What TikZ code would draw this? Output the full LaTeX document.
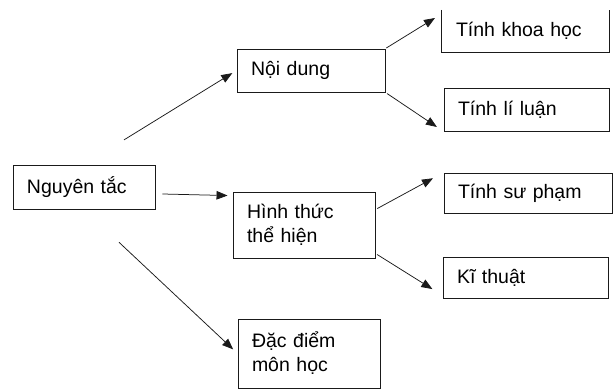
\documentclass[tikz,border=0pt]{standalone}
\usepackage{fontspec}
\setmainfont{Liberation Sans}
\usetikzlibrary{arrows.meta}
\definecolor{LineGray}{HTML}{1A1A1A}

\begin{document}
\begin{tikzpicture}[x=1pt, y=1pt,
    box/.style={draw=LineGray, line width=0.9pt, inner xsep=14pt, align=left,
                font=\fontsize{19.5}{24}\selectfont},
    openbox/.style={inner xsep=14pt, align=left, font=\fontsize{19.5}{24}\selectfont},
    arrow/.style={LineGray, line width=0.75pt, -{Triangle[length=11pt, width=8.5pt]}}]
                \useasboundingbox (0,0) rectangle (614,391);

                % Root
                \node[box, text width=114pt, minimum height=44pt] (nguyen) at (84, 204) {Nguyên tắc};

                % Middle level
                \node[box, text width=120pt, minimum height=43pt] (noidung) at (311, 320.5) {Nội dung};
                \node[box, text width=114pt, minimum height=66pt] (hinhthuc) at (304, 166) {Hình thức\\thể hiện};
                \node[box, text width=114pt, minimum height=69pt] (dacdiem) at (309, 37.5) {Đặc điểm\\môn học};

                % Leaves (top one has no top line)
                \node[openbox, text width=139pt, minimum height=42pt] (khoahoc) at (525.5, 360) {Tính khoa học};
                \draw[LineGray, line width=0.9pt] (khoahoc.north west) -- (khoahoc.south west)
                    -- (khoahoc.south east) -- (khoahoc.north east);
                \node[box, text width=137pt, minimum height=43pt] (liluan) at (526.5, 281.5) {Tính lí luận};
                \node[box, text width=140pt, minimum height=40pt] (supham) at (528, 198) {Tính sư phạm};
                \node[box, text width=137pt, minimum height=41pt] (kithuat) at (525.5, 113.5) {Kĩ thuật};

                % Arrows from root
                \draw[arrow, shorten <=47pt, shorten >=5pt] (nguyen.north) -- (noidung.west);
                \draw[arrow] ([shift={(7pt,-7pt)}]nguyen.east) -- ([shift={(-5pt,-4pt)}]hinhthuc.north west);
                \draw[arrow, shorten <=48pt, shorten >=6pt] (nguyen.south) -- (dacdiem.west);

                % Arrows to leaves
                \draw[arrow, shorten <=1pt, shorten >=8pt] (noidung.north east) -- ([yshift=-4pt]khoahoc.north west);
                \draw[arrow, shorten <=2pt, shorten >=8pt] (noidung.south east) -- (liluan.south west);
                \draw[arrow, shorten <=2pt, shorten >=12pt] ([yshift=-18pt]hinhthuc.north east) -- (supham.north west);
                \draw[arrow, shorten <=2pt, shorten >=12pt] ([yshift=5pt]hinhthuc.south east) -- ([yshift=3pt]kithuat.south west);
            \end{tikzpicture}
\end{document}
